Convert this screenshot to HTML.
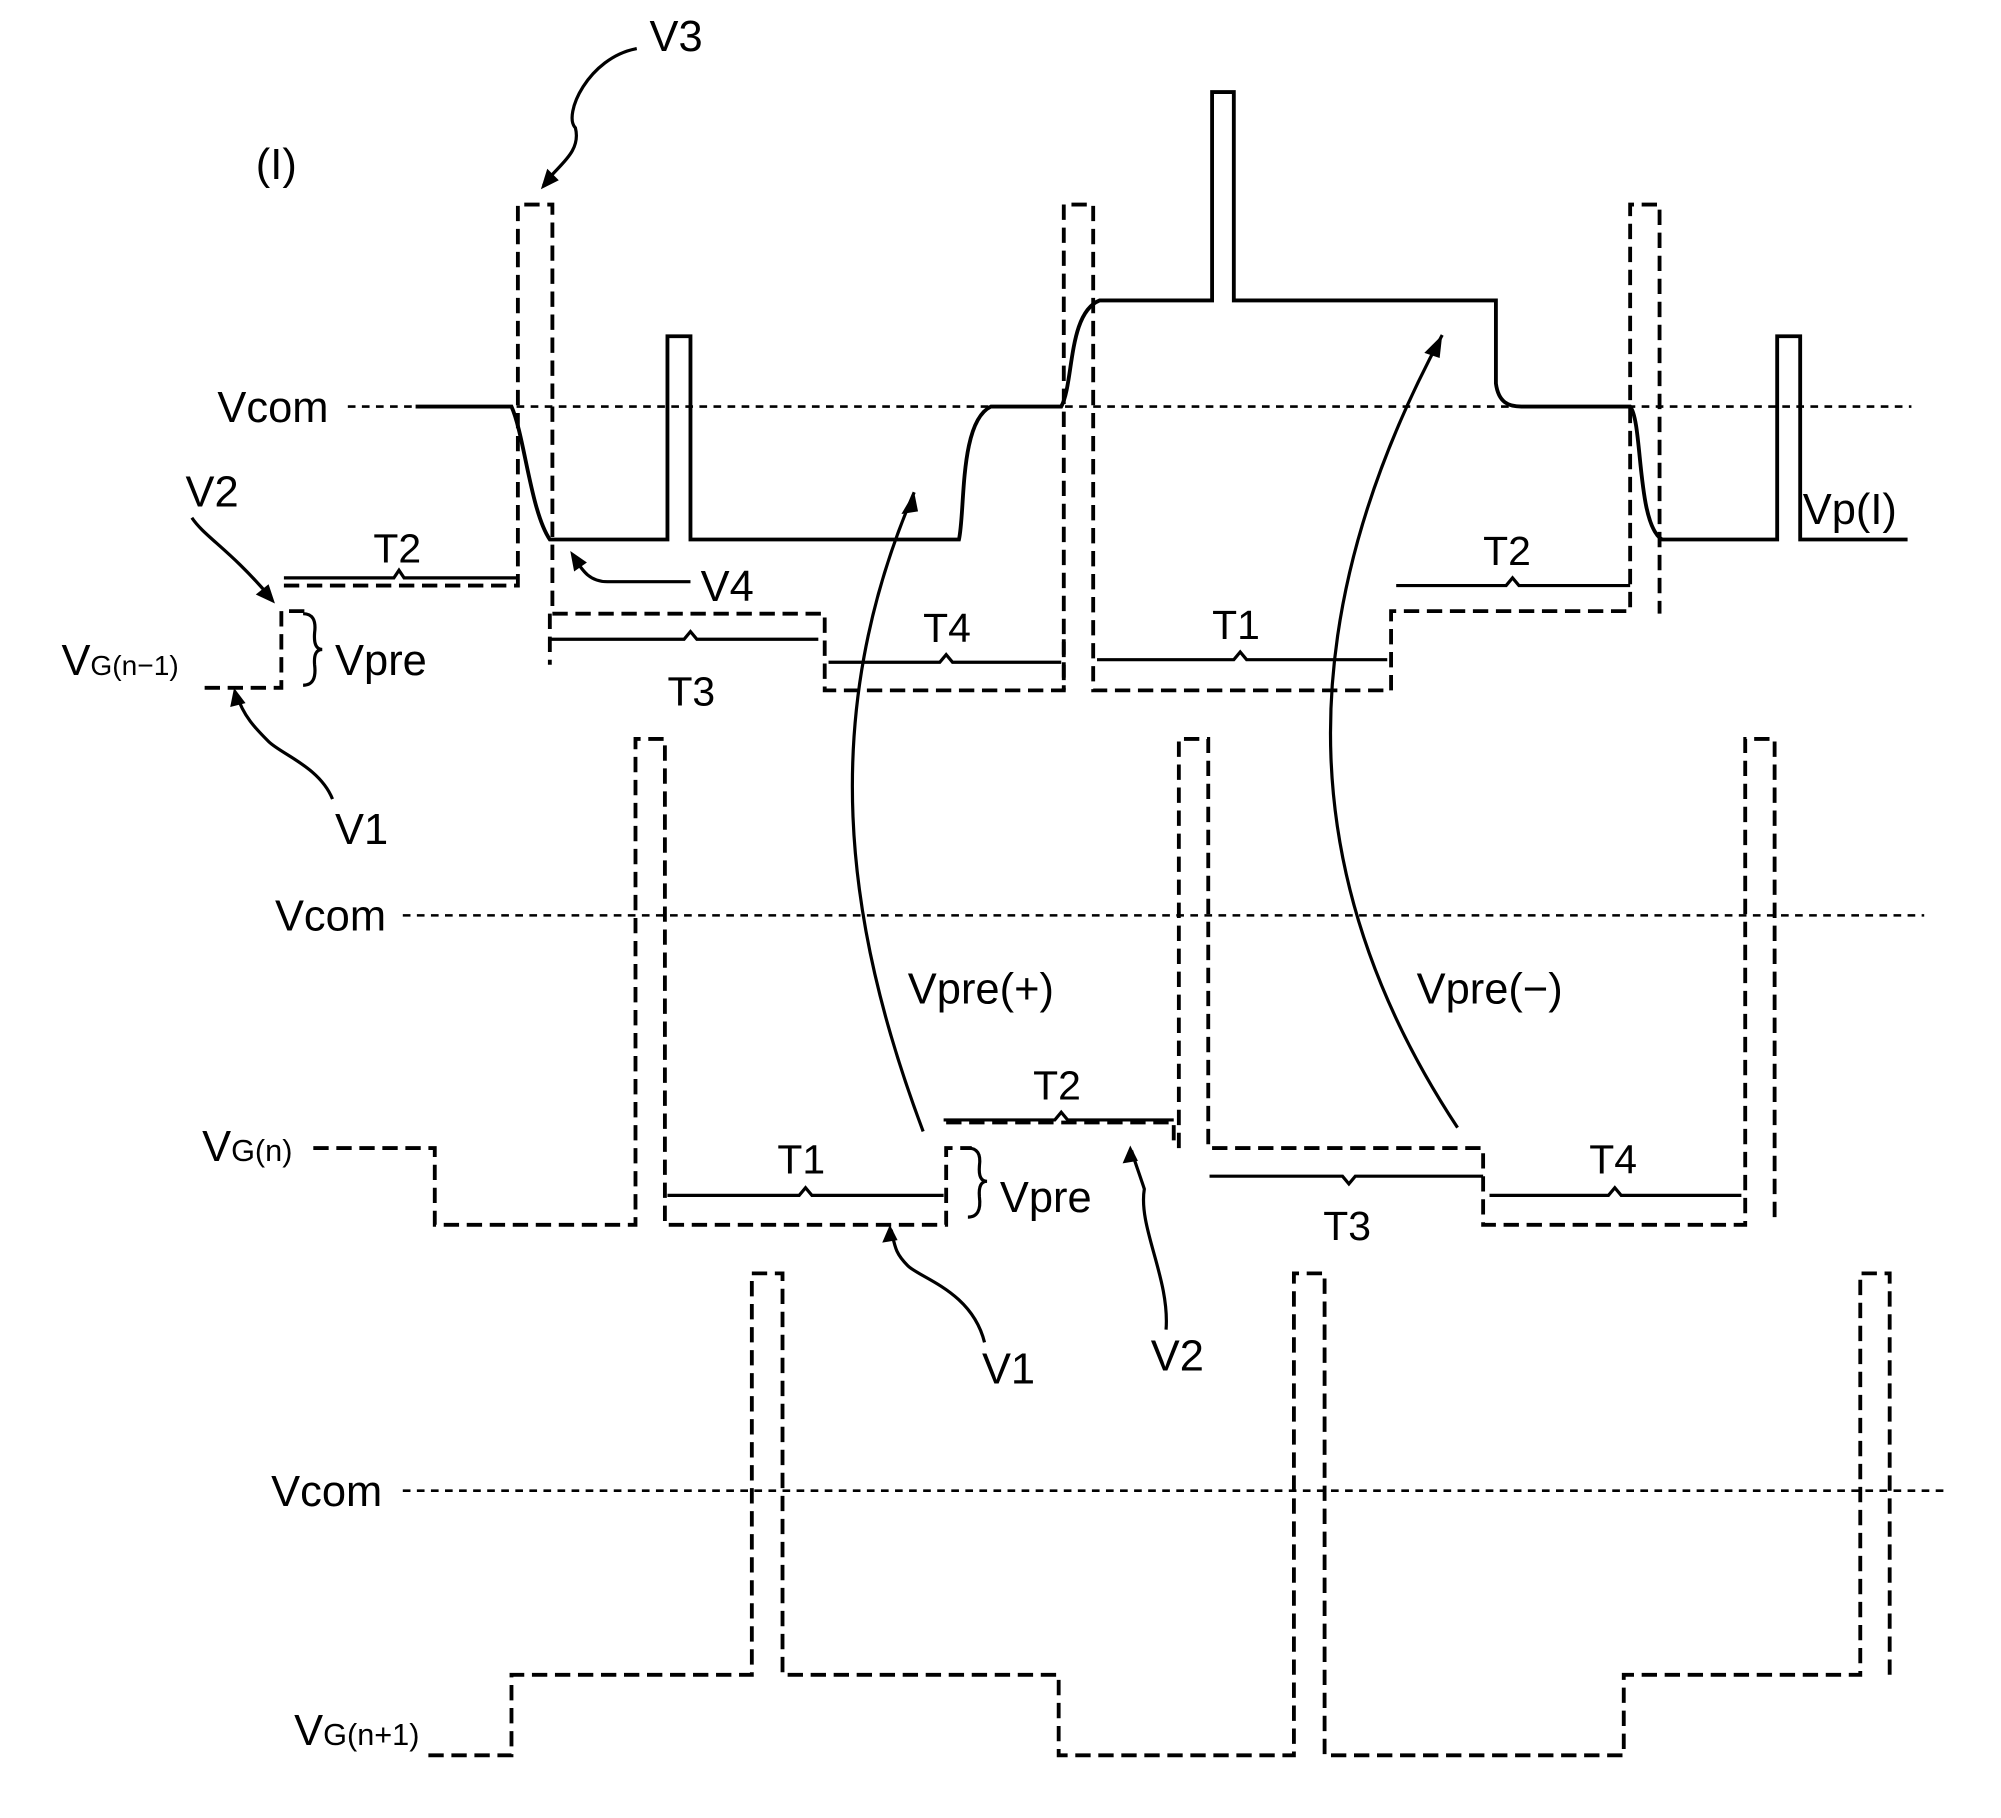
<!DOCTYPE html>
<html><head><meta charset="utf-8"><style>html,body{margin:0;padding:0;background:#fff}svg{display:block}</style></head><body>
<svg width="2001" height="1818" viewBox="0 0 1565 1422" xmlns="http://www.w3.org/2000/svg" font-family="Liberation Sans, sans-serif" font-size="34">
<g fill="none" stroke="#000" stroke-width="2" stroke-dasharray="6,5">
<line x1="272" y1="318" x2="1495" y2="318"/>
<line x1="315" y1="716" x2="1505" y2="716"/>
<line x1="315" y1="1166" x2="1520" y2="1166"/>
</g>
<g fill="none" stroke="#000" stroke-width="3" stroke-dasharray="12,6">
<path d="M160 538 H220 V478 H240 M222 458 H405 V160 H432 V480 H645 V540 H832 V160 H855 V540 H1088 V478 H1275 V160 H1298 V480"/>
<path d="M430 480 V520 M832 500 V540"/>
<path d="M245 898 H340 V958 H497 V578 H520 V958 H740 V898 H760 M740 878 H918 V898 M922 898 V578 H945 V898 H1160 V958 H1365 V578 H1388 V958"/>
<path d="M335 1373 H400 V1310 H588 V996 H612 V1310 H828 V1373 H1012 V996 H1036 V1373 H1270 V1310 H1455 V996 H1478 V1310"/>
</g>
<g fill="none" stroke="#000" stroke-width="3">
<path d="M325 318 H400 C410 340 415 400 430 422 H522 V263 H540 V422 H750 C755 400 750 330 775 318 H830 C840 300 835 245 860 235 H948 V72 H965 V235 H1170 V300 C1172 315 1180 318 1190 318 H1275 C1285 330 1280 410 1300 422 H1390 V263 H1408 V422 H1492"/>
</g>
<g fill="none" stroke="#000" stroke-width="2.5">
<path d="M222 452 H308 L312 446 L316 452 H405"/>
<path d="M430 500 H535 L540 494 L545 500 H640"/>
<path d="M648 518 H735 L740 512 L745 518 H830"/>
<path d="M858 516 H965 L970 510 L975 516 H1085"/>
<path d="M1092 458 H1178 L1183 452 L1188 458 H1275"/>
<path d="M522 935 H625 L630 929 L635 935 H738"/>
<path d="M738 876 H825 L830 870 L835 876 H918"/>
<path d="M946 920 H1050 L1055 926 L1060 920 H1160"/>
<path d="M1165 935 H1258 L1263 929 L1268 935 H1362"/>
<path d="M237 480 Q248 480 246 495 Q245 508 252 508 Q245 508 246 520 Q248 536 237 536"/>
<path d="M757 898 Q768 898 766 912 Q765 924 772 924 Q765 924 766 936 Q768 952 757 952"/>
<path d="M722 885 C660 720 640 560 715 385"/>
<path d="M1140 882 C1020 700 1000 500 1128 262"/>
<path d="M498 38 C460 45 440 90 450 100 C455 120 435 130 425 145"/>
<path d="M260 625 C250 600 220 590 210 580 C200 570 190 560 185 543"/>
<path d="M150 405 C160 420 180 430 212 468"/>
<path d="M540 455 H475 C460 455 455 445 448 435"/>
<path d="M770 1050 C760 1010 720 1000 710 990 C700 980 700 975 697 962"/>
<path d="M912 1040 C915 1000 890 960 895 930 C890 915 888 910 885 900"/>
</g>
<g fill="#000">
<path d="M715 385 L705 402 L718 400 Z"/><path d="M1128 262 L1114 276 L1126 280 Z"/>
<path d="M423 148 L428 132 L437 141 Z"/><path d="M183 538 L180 553 L192 550 Z"/>
<path d="M215 472 L200 465 L210 457 Z"/><path d="M446 431 L449 447 L459 440 Z"/>
<path d="M696 958 L690 972 L702 970 Z"/><path d="M884 896 L878 910 L890 908 Z"/>
</g>
<g fill="#000">
<text x="200" y="140">(I)</text>
<text x="508" y="40">V3</text>
<text x="170" y="330">Vcom</text>
<text x="145" y="396">V2</text>
<text x="292" y="440" font-size="32">T2</text>
<text x="548" y="470">V4</text>
<text x="48" y="528">V<tspan font-size="22">G(n−1)</tspan></text>
<text x="262" y="528">Vpre</text>
<text x="522" y="552" font-size="32">T3</text>
<text x="722" y="502" font-size="32">T4</text>
<text x="948" y="500" font-size="32">T1</text>
<text x="1160" y="442" font-size="32">T2</text>
<text x="1410" y="410">Vp(I)</text>
<text x="262" y="660">V1</text>
<text x="215" y="728">Vcom</text>
<text x="710" y="785">Vpre(+)</text>
<text x="1108" y="785">Vpre(−)</text>
<text x="808" y="860" font-size="32">T2</text>
<text x="158" y="908">V<tspan font-size="24">G(n)</tspan></text>
<text x="608" y="918" font-size="32">T1</text>
<text x="782" y="948">Vpre</text>
<text x="1243" y="918" font-size="32">T4</text>
<text x="1035" y="970" font-size="32">T3</text>
<text x="768" y="1082">V1</text>
<text x="900" y="1072">V2</text>
<text x="212" y="1178">Vcom</text>
<text x="230" y="1365">V<tspan font-size="24">G(n+1)</tspan></text>
</g>
</svg>
</body></html>
